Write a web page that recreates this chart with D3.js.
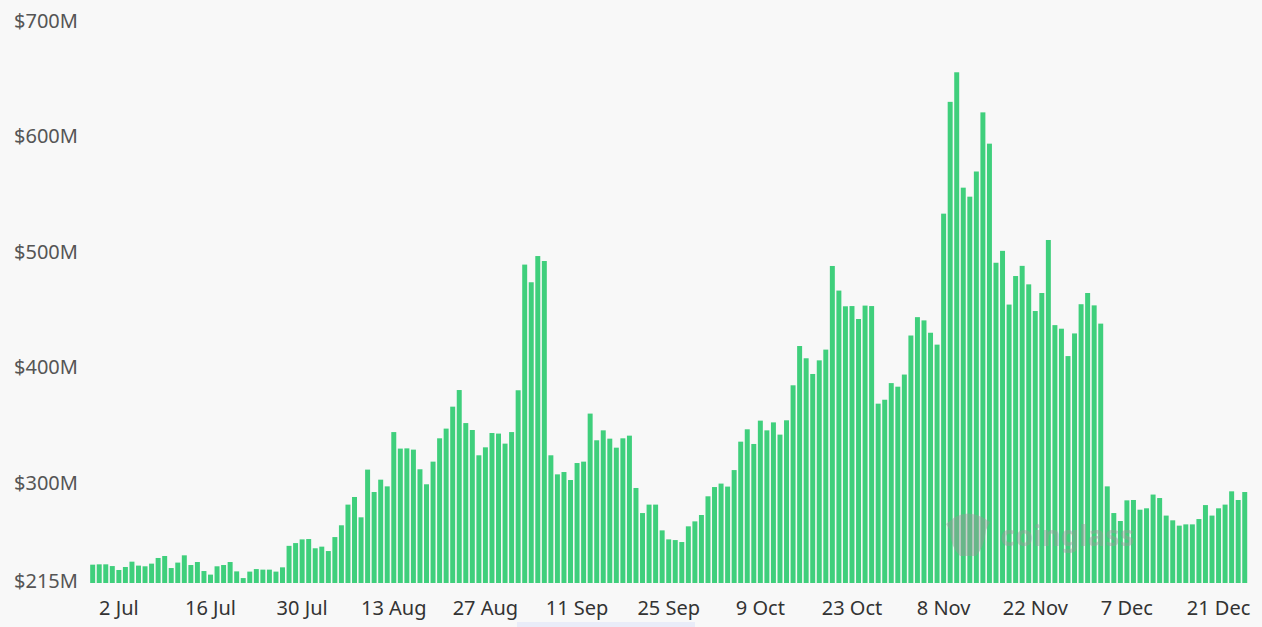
<!DOCTYPE html>
<html>
<head>
<meta charset="utf-8">
<script src="https://cdn.jsdelivr.net/npm/d3@7"></script>
<style>
  body { margin: 0; background: #f8f8f8; }
  svg { display: block; font-family: "Noto Sans", sans-serif; }
</style>
</head>
<body>
<div id="chart"></div>
<script>
var svgWidth = 1262;
var svgHeight = 627;

// daily categories (a few days are missing in the source)
var dates = [
  "28 Jun","29 Jun","30 Jun",
  "1 Jul","2 Jul","3 Jul","4 Jul","5 Jul","6 Jul","7 Jul","8 Jul","9 Jul","10 Jul","11 Jul","12 Jul","13 Jul","14 Jul","15 Jul","16 Jul","17 Jul","18 Jul","19 Jul","20 Jul","21 Jul","22 Jul","23 Jul","24 Jul","25 Jul","26 Jul","27 Jul","28 Jul","29 Jul","30 Jul","31 Jul",
  "1 Aug","2 Aug","3 Aug","4 Aug","5 Aug","6 Aug","7 Aug","8 Aug","9 Aug","10 Aug","11 Aug","12 Aug","13 Aug","14 Aug","15 Aug","16 Aug","17 Aug","18 Aug","19 Aug","20 Aug","21 Aug","22 Aug","23 Aug","24 Aug","25 Aug","26 Aug","27 Aug","28 Aug","29 Aug","30 Aug","31 Aug",
  "1 Sep","2 Sep","3 Sep","5 Sep","6 Sep","7 Sep","8 Sep","9 Sep","10 Sep","11 Sep","12 Sep","13 Sep","14 Sep","15 Sep","16 Sep","17 Sep","18 Sep","19 Sep","20 Sep","21 Sep","22 Sep","23 Sep","24 Sep","25 Sep","26 Sep","27 Sep","28 Sep","29 Sep","30 Sep",
  "1 Oct","2 Oct","3 Oct","4 Oct","5 Oct","6 Oct","7 Oct","8 Oct","9 Oct","10 Oct","11 Oct","12 Oct","13 Oct","14 Oct","15 Oct","16 Oct","17 Oct","18 Oct","19 Oct","20 Oct","21 Oct","22 Oct","23 Oct","24 Oct","25 Oct","26 Oct","27 Oct","29 Oct","30 Oct","31 Oct",
  "1 Nov","2 Nov","3 Nov","5 Nov","6 Nov","7 Nov","8 Nov","9 Nov","10 Nov","11 Nov","12 Nov","13 Nov","14 Nov","15 Nov","16 Nov","17 Nov","18 Nov","19 Nov","20 Nov","21 Nov","22 Nov","23 Nov","24 Nov","25 Nov","26 Nov","27 Nov","28 Nov","29 Nov",
  "1 Dec","2 Dec","3 Dec","4 Dec","5 Dec","6 Dec","7 Dec","8 Dec","9 Dec","10 Dec","11 Dec","12 Dec","13 Dec","14 Dec","15 Dec","16 Dec","17 Dec","18 Dec","19 Dec","20 Dec","21 Dec","22 Dec","23 Dec","24 Dec","25 Dec"
];

// values in $M
var values = [
  228.7, 229.0, 229.0, 227.5, 224.1, 226.7, 231.3, 227.9, 227.3, 229.6,
  234.5, 236.2, 225.8, 230.5, 236.8, 228.4, 231.0, 223.2, 220.1, 227.3,
  228.4, 231.0, 222.9, 217.1, 222.7, 224.9, 224.4, 224.4, 222.7, 226.4,
  245.0, 247.4, 250.6, 250.9, 242.9, 244.3, 240.5, 252.6, 262.8, 280.7,
  287.3, 269.7, 311.0, 291.6, 302.3, 296.5, 343.5, 329.2, 329.4, 328.3,
  311.3, 298.3, 317.9, 338.1, 346.5, 365.5, 379.9, 351.3, 345.3, 323.4,
  330.3, 342.7, 342.2, 333.5, 343.5, 379.7, 488.5, 473.2, 495.9, 491.6,
  323.4, 306.9, 308.9, 302.0, 316.7, 317.9, 359.5, 336.4, 345.0, 337.8,
  330.0, 338.1, 340.4, 295.1, 273.4, 280.7, 280.7, 258.4, 250.6, 250.0,
  248.3, 261.9, 266.2, 271.7, 287.9, 295.9, 298.9, 296.3, 310.6, 335.2,
  345.9, 333.2, 353.4, 345.0, 351.9, 341.3, 353.7, 384.0, 418.0, 407.4,
  393.8, 405.6, 414.9, 487.3, 466.0, 452.4, 452.6, 441.4, 453.0, 452.6,
  368.1, 371.5, 385.9, 382.8, 393.3, 427.1, 443.0, 440.2, 429.5, 419.2,
  532.6, 629.4, 655.0, 555.1, 547.3, 569.1, 620.3, 593.2, 490.1, 500.4,
  453.9, 478.6, 487.4, 471.4, 448.3, 463.9, 509.8, 436.1, 433.0, 409.3,
  428.9, 454.2, 463.9, 453.2, 437.4, 296.5, 273.4, 266.5, 284.4, 284.7,
  276.3, 277.5, 289.4, 286.4, 271.2, 267.1, 262.5, 263.6, 263.6, 268.2,
  280.3, 271.2, 277.5, 280.7, 292.2, 284.7, 291.6
];

var xTickLabels = ["2 Jul", "16 Jul", "30 Jul", "13 Aug", "27 Aug", "11 Sep", "25 Sep",
  "9 Oct", "23 Oct", "8 Nov", "22 Nov", "7 Dec", "21 Dec"];
var yTickValues = [215, 300, 400, 500, 600, 700];

var data = dates.map(function(d, i) { return { date: d, value: values[i] }; });

var svg = d3.select('#chart')
  .append('svg')
  .attr('width', svgWidth)
  .attr('height', svgHeight);

svg.append('rect')
  .attr('width', svgWidth)
  .attr('height', svgHeight)
  .attr('fill', '#f8f8f8');

// scales
var xScale = d3.scaleBand()
  .domain(dates)
  .range([89.4, 1248])
  .paddingInner(0.24)
  .paddingOuter(0.12);

var yScale = d3.scaleLinear()
  .domain([215, 700])
  .range([580.5, 20.3]);

var baseY = yScale(215) + 2.5;

// bars
svg.append('g')
  .selectAll('rect')
  .data(data)
  .enter()
  .append('rect')
  .attr('x', d => xScale(d.date))
  .attr('width', xScale.bandwidth())
  .attr('y', d => yScale(d.value))
  .attr('height', d => baseY - yScale(d.value))
  .attr('fill', '#3fcf7c');

// y axis labels
var yAxis = d3.axisLeft(yScale)
  .tickValues(yTickValues)
  .tickSize(0)
  .tickPadding(0)
  .tickFormat(d => '$' + d + 'M');

svg.append('g')
  .attr('transform', 'translate(14, 0)')
  .call(yAxis)
  .call(g => g.select('.domain').remove())
  .selectAll('text')
  .attr('text-anchor', 'start')
  .attr('x', 0)
  .attr('dy', '0.35em')
  .attr('fill', '#555')
  .style('font-size', '20px')
  .style('font-family', '"Noto Sans", sans-serif');

// x axis labels
var xAxis = d3.axisBottom(xScale)
  .tickValues(xTickLabels)
  .tickSize(0)
  .tickPadding(0);

svg.append('g')
  .attr('transform', `translate(0, ${baseY})`)
  .call(xAxis)
  .call(g => g.select('.domain').remove())
  .selectAll('text')
  .attr('y', 25)
  .attr('dy', '0.35em')
  .attr('fill', '#333')
  .style('font-size', '20px')
  .style('font-family', '"Noto Sans", sans-serif');

// watermark
var mark = svg.append('g')
  .attr('opacity', 0.45)
  .attr('fill', '#9a9a9a');

mark.append('path')
  .attr('d', 'M955,517 Q968,510 982,517 L990,522 L986,530 Q984,548 976,556 L960,556 Q950,546 950,530 L946,524 Z');

mark.append('text')
  .attr('x', 1000)
  .attr('y', 546)
  .style('font-size', '29px')
  .style('font-weight', 'bold')
  .style('font-family', '"Noto Sans", sans-serif')
  .text('coinglass');

// faint strip at the bottom
svg.append('rect')
  .attr('x', 517)
  .attr('y', 622)
  .attr('width', 178)
  .attr('height', 5)
  .attr('fill', '#e9ecf8');
</script>
</body>
</html>
